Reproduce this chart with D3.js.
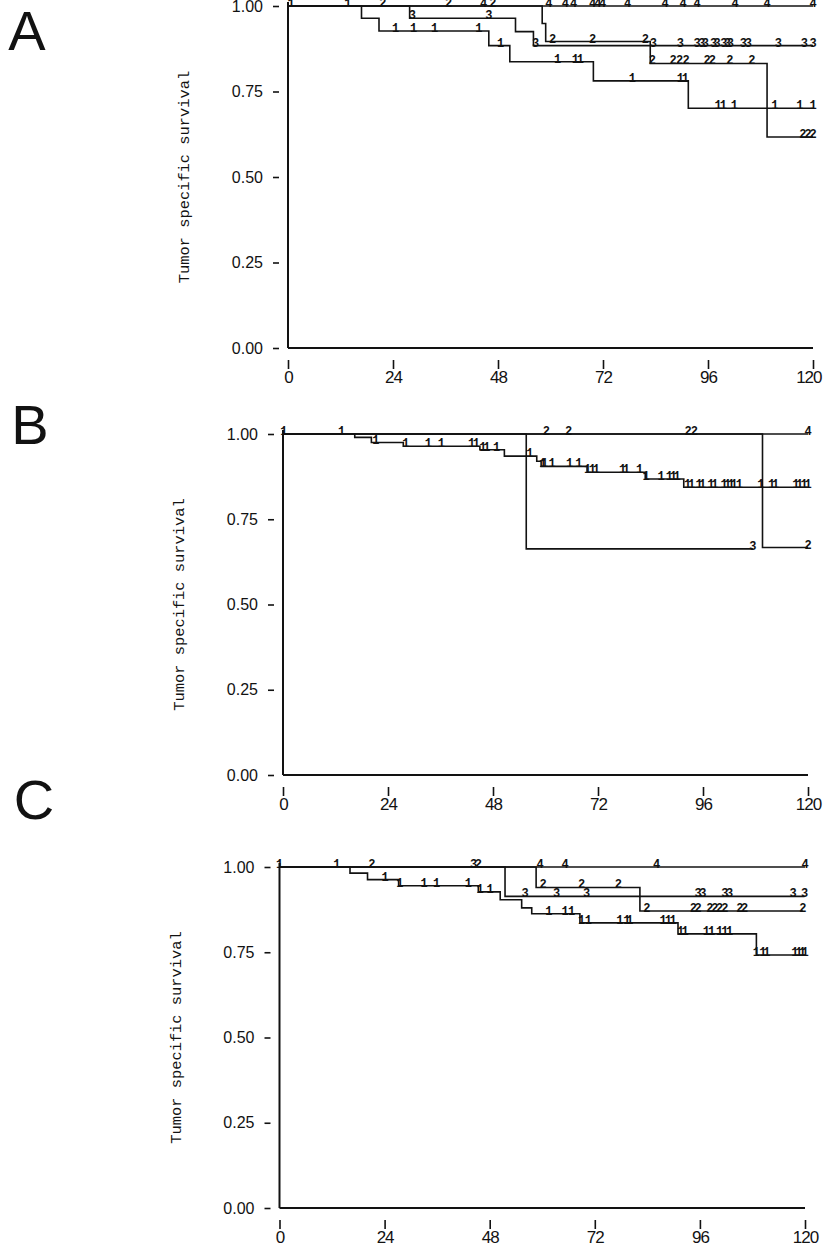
<!DOCTYPE html>
<html><head><meta charset="utf-8">
<script src="https://cdn.jsdelivr.net/npm/d3@7"></script>
<style>body{margin:0;background:#fff}</style>
</head><body>
<svg id="c" width="823" height="1251"></svg>
<script>
// ---------- shared axis data ----------
const xTicks = [0, 24, 48, 72, 96, 120];
const yTicks = [0, 0.25, 0.5, 0.75, 1];
const yTitle = "Tumor specific survival";
const panelLetters = ["A", "B", "C"];

// ---------- Panel A ----------
const A1_evT = [16.8, 20.8, 45.9, 50.7, 69.8, 91.5];
const A1_evS = [0.964, 0.927, 0.884, 0.837, 0.781, 0.701];
const A1_cens = [0.7, 13.7, 24.6, 28.7, 33.5, 43.6, 48.6, 61.6, 65.7, 66.8, 78.7, 89.7, 90.8, 98.3, 99.5, 102, 111.3, 117, 120];
const A2_evT = [58.1, 58.9, 82.8, 109.5];
const A2_evS = [0.949, 0.896, 0.832, 0.617];
const A2_cens = [21.7, 36.7, 46.8, 60.5, 69.6, 81.7, 83.3, 88, 89.5, 91, 95.8, 97, 101, 106, 117.7, 118.9, 120];
const A3_evT = [27.8, 52.0, 56.1];
const A3_evS = [0.964, 0.925, 0.884];
const A3_cens = [28.4, 45.9, 56.6, 83.5, 89.7, 93.5, 94.6, 95.4, 97.3, 98.1, 99.6, 100.4, 101.1, 104.1, 105.2, 112.1, 118, 120];
const A4_evT = [];
const A4_evS = [];
const A4_cens = [44.7, 59.6, 63.4, 65.3, 69.6, 70.8, 71.9, 77.6, 86.2, 90.3, 93.5, 102.2, 109.5, 120];

// ---------- Panel B ----------
const B1_evT = [16.4, 20.2, 27.5, 45, 50.6, 58, 59, 69.5, 82.8, 91.6];
const B1_evS = [0.99, 0.975, 0.964, 0.954, 0.935, 0.92, 0.905, 0.888, 0.868, 0.844];
const B1_cens = [0.2, 13.4, 21.2, 28.1, 33.2, 36.2, 43.1, 44.2, 45.7, 46.6, 48.8, 56.4, 59.4, 59.8, 61.5, 65.5, 67.6, 69.6, 70.7, 71.6, 77.6, 78.5, 81.5, 83, 86.4, 88.3, 89.2, 90.1, 92.5, 93.4, 95.1, 95.9, 97.8, 98.7, 100.8, 101.6, 102.4, 103.1, 104.3, 109.2, 111.7, 112.6, 117.2, 118.1, 119.1, 120.2];
const B2_evT = [109.6];
const B2_evS = [0.667];
const B2_cens = [60.2, 65.3, 92.6, 94, 120];
const B3_evT = [55.6];
const B3_evS = [0.663];
const B3_cens = [107.4];
const B4_evT = [];
const B4_evS = [];
const B4_cens = [120];

// ---------- Panel C ----------
const C1_evT = [16.1, 20.1, 27.2, 45.4, 50.4, 55.3, 57.6, 68.6, 91, 108.9];
const C1_evS = [0.982, 0.963, 0.945, 0.927, 0.904, 0.88, 0.863, 0.836, 0.804, 0.742];
const C1_cens = [0, 13.1, 24.1, 27.5, 33, 35.9, 43.1, 45.8, 48.1, 61.5, 65.2, 66.7, 69, 70.5, 77.7, 79.3, 80, 87.6, 88.8, 89.9, 91.6, 92.6, 97.5, 98.7, 100.5, 101.7, 102.8, 108.9, 110.4, 111.3, 117.7, 118.6, 119.4, 120.2];
const C2_evT = [58.6, 82.3];
const C2_evS = [0.94, 0.871];
const C2_cens = [21.1, 45.4, 60.2, 69, 77.4, 83.9, 94.5, 95.6, 98.3, 99.4, 100.5, 101.7, 105.1, 106.2, 119.5];
const C3_evT = [51.5];
const C3_evS = [0.914];
const C3_cens = [44.3, 56.1, 63.3, 70.1, 95.6, 96.7, 101.7, 102.8, 117.3, 119.9];
const C4_evT = [];
const C4_evS = [];
const C4_cens = [59.5, 65.2, 86.1, 120];

// ---------- assemble ----------
const groupLabels = ["1", "2", "3", "4"];
const panelsData = [
  [[A1_evT, A1_evS, A1_cens], [A2_evT, A2_evS, A2_cens], [A3_evT, A3_evS, A3_cens], [A4_evT, A4_evS, A4_cens]],
  [[B1_evT, B1_evS, B1_cens], [B2_evT, B2_evS, B2_cens], [B3_evT, B3_evS, B3_cens], [B4_evT, B4_evS, B4_cens]],
  [[C1_evT, C1_evS, C1_cens], [C2_evT, C2_evS, C2_cens], [C3_evT, C3_evS, C3_cens], [C4_evT, C4_evS, C4_cens]]
];
const layout = [
  {x0: 288, x1: 813, yTop: 6, yBot: 348, lx: 27, ly: 50},
  {x0: 283, x1: 808, yTop: 434, yBot: 775, lx: 30, ly: 444},
  {x0: 279.5, x1: 805, yTop: 867, yBot: 1208, lx: 34, ly: 819}
];

const svg = d3.select("#c");
const ink = "#121212";

panelsData.forEach((groups, pi) => {
  const L = layout[pi];
  const x = d3.scaleLinear().domain([0, 120]).range([L.x0, L.x1]);
  const y = d3.scaleLinear().domain([0, 1]).range([L.yBot, L.yTop]);
  const g = svg.append("g");

  // panel letter
  g.append("text").attr("x", L.lx).attr("y", L.ly).attr("text-anchor", "middle")
    .attr("font-family", "Liberation Sans, Arial, sans-serif").attr("font-size", 56)
    .attr("fill", ink).text(panelLetters[pi]);

  // axis lines
  g.append("line").attr("x1", x(0)).attr("x2", x(0)).attr("y1", y(1) - 4).attr("y2", y(0))
    .attr("stroke", ink).attr("stroke-width", 2);
  g.append("line").attr("x1", x(0)).attr("x2", x(120)).attr("y1", y(0)).attr("y2", y(0))
    .attr("stroke", ink).attr("stroke-width", 1.8);

  // y axis ticks (detached)
  const ya = g.append("g").attr("transform", `translate(${x(0) - 9},0)`)
    .call(d3.axisLeft(y).tickValues(yTicks).tickFormat(d3.format(".2f")).tickSize(6).tickPadding(10));
  ya.select(".domain").remove();
  ya.selectAll("line").attr("stroke", ink).attr("stroke-width", 1.6);
  ya.selectAll("text").attr("font-family", "Liberation Sans, Arial, sans-serif")
    .attr("font-size", 16).attr("fill", ink);

  // x axis ticks (detached)
  const xa = g.append("g").attr("transform", `translate(0,${y(0) + 12})`)
    .call(d3.axisBottom(x).tickValues(xTicks).tickFormat(d3.format("d")).tickSize(9).tickPadding(2));
  xa.select(".domain").remove();
  xa.selectAll("line").attr("stroke", ink).attr("stroke-width", 1.6);
  xa.selectAll("text").attr("font-family", "Liberation Sans, Arial, sans-serif")
    .attr("font-size", 17).attr("letter-spacing", "-1px").attr("fill", ink)
    .each(function(d) {
      const w = this.getComputedTextLength();
      const over = x(d) + w / 2 - 821;
      if (over > 0) d3.select(this).attr("dx", -over);
    });

  // y title
  g.append("text")
    .attr("transform", `translate(${x(0) - 99},${(y(0) + y(1)) / 2}) rotate(-90)`)
    .attr("text-anchor", "middle")
    .attr("font-family", "Liberation Mono, DejaVu Sans Mono, monospace")
    .attr("font-size", 15.4).attr("fill", ink).text(yTitle);

  const line = d3.line().x(d => x(d[0])).y(d => y(d[1])).curve(d3.curveStepAfter);

  groups.forEach((gr, gi) => {
    const [evT, evS, cens] = gr;
    const end = Math.max(d3.max(cens) || 0, d3.max(evT) || 0);
    const pts = [[0, 1]];
    evT.forEach((t, i) => pts.push([t, evS[i]]));
    pts.push([Math.min(end, 120), evS.length ? evS[evS.length - 1] : 1]);
    g.append("path").attr("d", line(pts)).attr("fill", "none")
      .attr("stroke", ink).attr("stroke-width", 1.6);

    const survAt = t => {
      let s = 1;
      evT.forEach((et, i) => { if (et <= t) s = evS[i]; });
      return s;
    };
    g.selectAll(null).data(cens).enter().append("text")
      .attr("x", d => x(Math.min(d, 120)))
      .attr("y", d => y(survAt(d)) + 1)
      .attr("text-anchor", "middle")
      .attr("font-family", "Liberation Mono, DejaVu Sans Mono, monospace")
      .attr("font-weight", "bold")
      .attr("font-size", 12).attr("fill", ink)
      .text(groupLabels[gi]);
  });
});
</script>
</body></html>
